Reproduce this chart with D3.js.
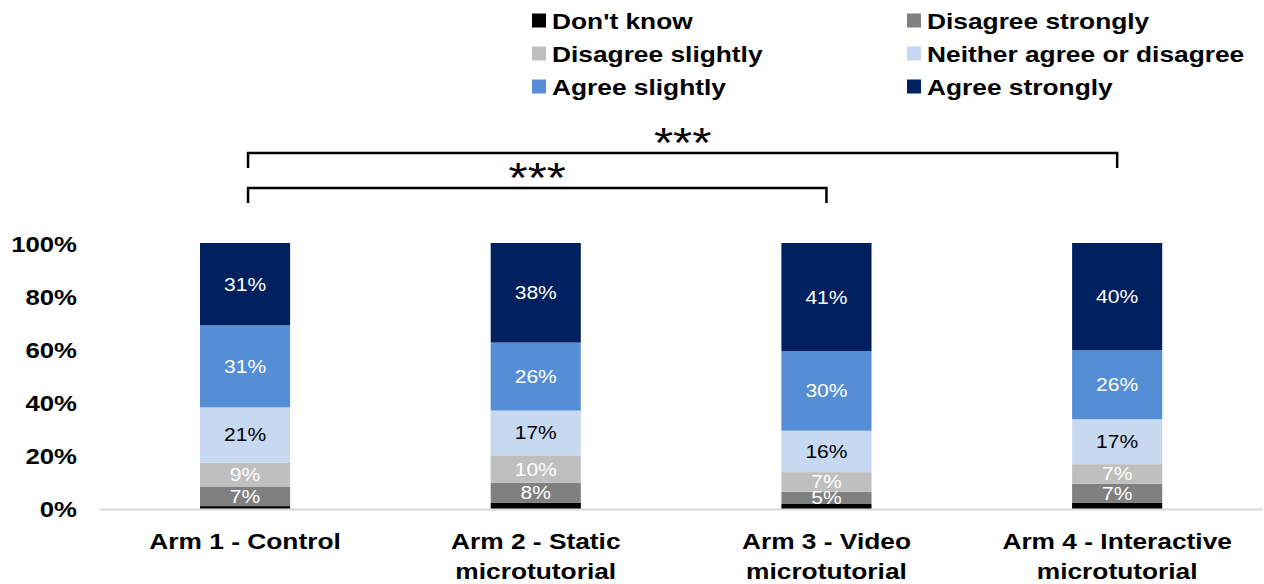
<!DOCTYPE html>
<html>
<head>
<meta charset="utf-8">
<script src="https://cdn.jsdelivr.net/npm/d3@7"></script>
<style>
  html, body { margin: 0; padding: 0; background: #fff; }
  svg { display: block; }
  text { font-family: Arial, "Liberation Sans", sans-serif; }
</style>
</head>
<body>
<svg id="chart" width="1264" height="584"></svg>
<script>
// Arms (x-axis categories); "\n" separates the two label lines
const arms = [
  "Arm 1 - Control",
  "Arm 2 - Static\nmicrotutorial",
  "Arm 3 - Video\nmicrotutorial",
  "Arm 4 - Interactive\nmicrotutorial"
];

// Response shares per arm (%)
const dontKnow         = [0.9, 2.1, 1.7, 2.1];
const disagreeStrongly = [7.4, 7.6, 4.6, 7.2];
const disagreeSlightly = [9.0, 10.3, 7.4, 7.4];
const neitherAgree     = [20.8, 16.9, 15.6, 16.9];
const agreeSlightly    = [30.9, 25.6, 30.0, 26.0];
const agreeStrongly    = [31.0, 37.5, 40.7, 40.4];

const seriesNames = [
  "Don't know", "Disagree strongly", "Disagree slightly",
  "Neither agree or disagree", "Agree slightly", "Agree strongly"
];
const seriesValues = [dontKnow, disagreeStrongly, disagreeSlightly, neitherAgree, agreeSlightly, agreeStrongly];
const seriesColors = ["#000000", "#808080", "#bfbfbf", "#c6d9f1", "#558ed5", "#002060"];
const labelColors  = [null, "#ffffff", "#ffffff", "#000000", "#ffffff", "#ffffff"];

const yTicks = [0, 20, 40, 60, 80, 100];

// Significance comparisons between arms (indices into arms)
const comparisons = [
  { from: 0, to: 2, label: "***" },
  { from: 0, to: 3, label: "***" }
];

const SX = 1.17; // horizontal text stretch

const svg = d3.select("#chart");

const x = d3.scaleBand()
  .domain(d3.range(arms.length))
  .range([99.7, 1262.5])
  .paddingInner(0.69)
  .paddingOuter(0.345);

const y = d3.scaleLinear().domain([0, 100]).range([508.5, 243]);

// Stack the series
const rows = arms.map((a, i) => {
  const r = { idx: i };
  seriesNames.forEach((n, k) => { r[n] = seriesValues[k][i]; });
  return r;
});
const stacked = d3.stack().keys(seriesNames)(rows);

// Baseline axis line
svg.append("line")
  .attr("x1", x.range()[0]).attr("x2", x.range()[1])
  .attr("y1", y(0) + 1).attr("y2", y(0) + 1)
  .attr("stroke", "#d9d9d9").attr("stroke-width", 2);

// Bars
const layers = svg.append("g").selectAll("g")
  .data(stacked).join("g")
  .attr("fill", (d, k) => seriesColors[k]);

layers.selectAll("rect")
  .data(d => d)
  .join("rect")
  .attr("x", d => x(d.data.idx))
  .attr("width", x.bandwidth())
  .attr("y", d => y(d[1]))
  .attr("height", d => y(d[0]) - y(d[1]));

// Segment value labels
stacked.forEach((layer, k) => {
  if (!labelColors[k]) return;
  layer.forEach(d => {
    const cx = x(d.data.idx) + x.bandwidth() / 2;
    const cy = (y(d[0]) + y(d[1])) / 2;
    svg.append("text")
      .attr("transform", `translate(${cx},${cy + 6.5}) scale(${SX},1)`)
      .attr("text-anchor", "middle")
      .attr("font-size", 18)
      .attr("fill", labelColors[k])
      .text(Math.round(d[1] - d[0]) + "%");
  });
});

// Y tick labels
yTicks.forEach(t => {
  svg.append("text")
    .attr("transform", `translate(77,${y(t) + 8.5}) scale(${SX},1)`)
    .attr("text-anchor", "end")
    .attr("font-size", 22)
    .attr("font-weight", "bold")
    .attr("fill", "#000")
    .text(t + "%");
});

// X category labels
arms.forEach((a, i) => {
  const cx = x(i) + x.bandwidth() / 2;
  a.split("\n").forEach((line, j) => {
    svg.append("text")
      .attr("transform", `translate(${cx},${549 + j * 30}) scale(${SX},1)`)
      .attr("text-anchor", "middle")
      .attr("font-size", 22.5)
      .attr("font-weight", "bold")
      .attr("fill", "#000")
      .text(line);
  });
});

// Significance brackets
const bracketLevels = [188, 153];
comparisons.forEach((c, i) => {
  const by = bracketLevels[i];
  const x1 = x(c.from) + x.bandwidth() / 2 + 3;
  const x2 = x(c.to) + x.bandwidth() / 2;
  svg.append("path")
    .attr("d", `M${x1},${by + 15}V${by}H${x2}V${by + 15}`)
    .attr("fill", "none")
    .attr("stroke", "#000")
    .attr("stroke-width", 2.5);
  svg.append("text")
    .attr("transform", `translate(${(x1 + x2) / 2},${by + 4}) scale(${SX},1)`)
    .attr("text-anchor", "middle")
    .attr("font-size", 42)
    .attr("fill", "#000")
    .text(c.label);
});

// Legend
const legendCols = [532, 907];
const legendRows = [20.5, 53.5, 86.5];
seriesNames.forEach((n, k) => {
  const lx = legendCols[k % 2];
  const ly = legendRows[Math.floor(k / 2)];
  svg.append("rect")
    .attr("x", lx).attr("y", ly - 7)
    .attr("width", 14).attr("height", 14)
    .attr("fill", seriesColors[k]);
  svg.append("text")
    .attr("transform", `translate(${lx + 20},${ly + 8.3}) scale(${SX},1)`)
    .attr("font-size", 22.5)
    .attr("font-weight", "bold")
    .attr("fill", "#000")
    .text(n);
});
</script>
</body>
</html>
